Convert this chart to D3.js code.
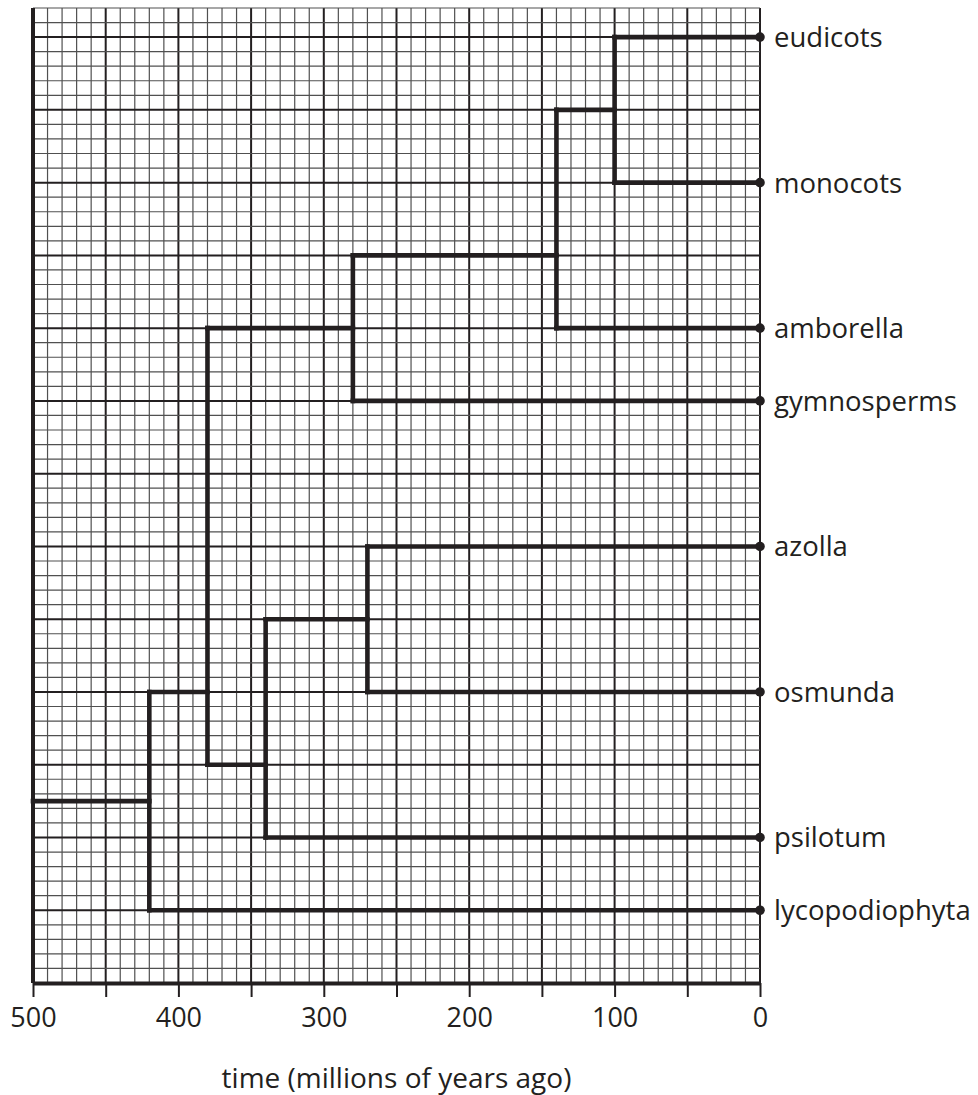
<!DOCTYPE html>
<html lang="en">
<head>
    <meta charset="UTF-8">
    <title>Plant phylogeny</title>
    <script src="https://d3js.org/d3.v7.min.js"></script>
    <style>
        body { margin: 0; background: #fff; }
        text { font-family: "Open Sans", sans-serif; fill: #231f20; }
        .minor { stroke: #505050; stroke-width: 1.2px; }
        .major { stroke: #231f20; stroke-width: 2px; }
        .branch { fill: none; stroke: #231f20; stroke-width: 4.6px; stroke-linecap: square; }
    </style>
</head>
<body>
<svg width="978" height="1095">
    <g id="gridlayer"></g>
    <g id="axislayer"></g>
    <g id="treelayer"></g>
    <g id="labellayer"></g>
</svg>
<script type="text/javascript">
    // leaves, top to bottom, with the grid row (major squares from the axis) they sit on
    const leaves = ["eudicots", "monocots", "amborella", "gymnosperms", "azolla", "osmunda", "psilotum", "lycopodiophyta"];
    const leafRow = [13, 11, 9, 8, 6, 4, 2, 1];

    // splits: time (millions of years ago), row where the stem joins, children
    const splitName = ["n1", "n2", "n3", "n4", "n5", "n6", "n7"];
    const splitTime = [100, 140, 280, 270, 340, 380, 420];
    const splitRow = [12, 10, 9, 5, 3, 4, 2.5];
    const splitChildren = [
        ["eudicots", "monocots"],
        ["n1", "amborella"],
        ["n2", "gymnosperms"],
        ["azolla", "osmunda"],
        ["n4", "psilotum"],
        ["n3", "n5"],
        ["n6", "lycopodiophyta"]
    ];
    const rootTime = 500;

    const tickValues = [500, 450, 400, 350, 300, 250, 200, 150, 100, 50, 0];
    const tickLabels = ["500", "", "400", "", "300", "", "200", "", "100", "", "0"];

    let svg = d3.select("svg");

    let x = d3.scaleLinear().domain([500, 0]).range([33, 760]);
    let y = d3.scaleLinear().domain([0, 13.4]).range([983, 8]);

    // graph paper
    let grid = d3.select("#gridlayer");
    let vLines = d3.range(0, 501, 10);
    grid.selectAll("line.v")
        .data(vLines)
        .join("line")
        .attr("class", d => d % 50 === 0 ? "major" : "minor")
        .attr("x1", d => x(d)).attr("x2", d => x(d))
        .attr("y1", y(13.4)).attr("y2", y(0));

    let hLines = d3.range(0, 68).map(i => i / 5);
    grid.selectAll("line.h")
        .data(hLines)
        .join("line")
        .attr("class", (d, i) => i % 5 === 0 ? "major" : "minor")
        .attr("x1", x(500)).attr("x2", x(0))
        .attr("y1", d => y(d)).attr("y2", d => y(d));

    // left frame
    grid.append("line")
        .attr("x1", x(500)).attr("x2", x(500))
        .attr("y1", y(13.4)).attr("y2", y(0))
        .attr("stroke", "#231f20").attr("stroke-width", 4);

    // bottom axis
    let axis = d3.axisBottom(x)
        .tickValues(tickValues)
        .tickFormat((d, i) => tickLabels[i])
        .tickSize(14)
        .tickPadding(11)
        .tickSizeOuter(0);

    let ax = d3.select("#axislayer")
        .attr("transform", `translate(0,${y(0)})`)
        .call(axis);
    ax.select(".domain").attr("stroke", "#231f20").attr("stroke-width", 4);
    ax.selectAll(".tick line").attr("stroke", "#231f20").attr("stroke-width", 2);
    ax.selectAll(".tick text")
        .attr("font-family", "Open Sans, sans-serif")
        .attr("font-size", 27)
        .attr("fill", "#231f20");

    svg.append("text")
        .attr("x", (x(500) + x(0)) / 2)
        .attr("y", 1088)
        .attr("text-anchor", "middle")
        .attr("font-size", 28)
        .text("time (millions of years ago)");

    // tree
    let pos = {};
    leaves.forEach((d, i) => pos[d] = {t: 0, row: leafRow[i]});
    splitName.forEach((d, i) => pos[d] = {t: splitTime[i], row: splitRow[i]});

    let segs = [];
    splitName.forEach((d, i) => {
        let kids = splitChildren[i].map(c => pos[c]);
        let rows = kids.map(k => k.row);
        segs.push([[splitTime[i], d3.min(rows)], [splitTime[i], d3.max(rows)]]);
        kids.forEach(k => segs.push([[splitTime[i], k.row], [k.t, k.row]]));
    });
    // stem to the root
    segs.push([[rootTime, splitRow[6]], [splitTime[6], splitRow[6]]]);

    let line = d3.line().x(d => x(d[0])).y(d => y(d[1]));
    d3.select("#treelayer").selectAll("path")
        .data(segs)
        .join("path")
        .attr("class", "branch")
        .attr("d", line);

    d3.select("#treelayer").selectAll("circle")
        .data(leafRow)
        .join("circle")
        .attr("cx", x(0))
        .attr("cy", d => y(d))
        .attr("r", 4.8)
        .attr("fill", "#231f20");

    d3.select("#labellayer").selectAll("text")
        .data(leaves)
        .join("text")
        .attr("x", x(0) + 14)
        .attr("y", (d, i) => y(leafRow[i]))
        .attr("dy", "0.36em")
        .attr("font-size", 27.5)
        .text(d => d);
</script>
</body>
</html>
